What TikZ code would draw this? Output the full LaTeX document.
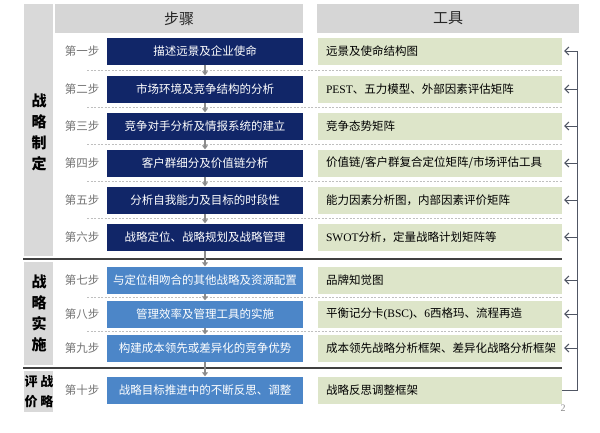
\documentclass[tikz,border=0pt]{standalone}
\usepackage{fontspec}
\setmainfont{Noto Sans CJK SC}
\newfontfamily\lat{Liberation Serif}
\usetikzlibrary{arrows.meta}
\definecolor{navy}{RGB}{17,38,104}
\definecolor{lblue}{RGB}{76,134,200}
\definecolor{tgreen}{RGB}{221,229,201}
\definecolor{colgray}{RGB}{217,217,217}
\definecolor{hdrgray}{RGB}{214,214,214}
\definecolor{lblgray}{RGB}{115,115,115}
\definecolor{conn}{RGB}{80,86,100}
\tikzset{
  stepbox/.style={fill=navy, text=white, minimum width=196pt, minimum height=27pt, inner sep=0pt, font=\fontsize{11.5}{12}\selectfont},
  stepboxl/.style={stepbox, fill=lblue},
  toolbox/.style={fill=tgreen, text=black, minimum height=27pt, text width=228pt, inner xsep=8pt, inner ysep=0pt, align=left, font=\fontsize{11.5}{12}\selectfont},
  steplbl/.style={text=lblgray, inner sep=0pt, font=\fontsize{11.5}{12}\selectfont},
  hdr/.style={fill=hdrgray, minimum height=29pt, inner sep=0pt, font=\fontsize{15}{16}\selectfont, text=black!85},
  phase/.style={fill=colgray, minimum width=29pt, inner sep=0pt},
  phasetxt/.style={align=center, inner sep=0pt, font=\bfseries\fontsize{15}{21}\selectfont},
  sepline/.style={draw=black!75, line width=2pt},
  dashline/.style={draw=black!25, dashed, dash pattern=on 2pt off 1.5pt, line width=0.8pt},
  flow/.style={draw=black!45, line width=1.5pt, -{Triangle[length=4pt,width=6pt]}},
  fb/.style={draw=conn, line width=1pt, -{Straight Barb[length=4pt,width=8pt]}, shorten >=2pt},
}
\begin{document}
\begin{tikzpicture}[x=1pt,y=-1pt]
\useasboundingbox[fill=white] (0,0) rectangle (600,432);
% phase column
\node[phase, minimum height=252pt] (p1) at (38.5,130) {};
\node[phase, minimum height=103pt] (p2) at (38.5,313.5) {};
\node[phase, minimum height=41pt] (p3) at (38.5,391.5) {};
\node[phasetxt] (p1t) at (39,132) {战\\略\\制\\定};
\node[phasetxt] (p2t) at (39,313.5) {战\\略\\实\\施};
\node[phasetxt, font=\bfseries\fontsize{13}{20}\selectfont] (p3t) at (39,392) {评\hspace{3pt}战\\价\hspace{3pt}略};
% headers
\node[hdr, minimum width=248pt] (h1) at (179,18.5) {步骤};
\node[hdr, minimum width=262pt] (h2) at (448,18.5) {工具};
% separators
\foreach \y in {70,107.5,144.5,181.5,218.5,297,331}{
  \draw[dashline] (87,\y) -- (562,\y);
}
\draw[sepline] (23,259) -- (562,259);
\draw[sepline] (23,368) -- (562,368);
% steps
\node[stepbox] (s1) at (205,51) {描述远景及企业使命};
\node[stepbox] (s2) at (205,89) {市场环境及竞争结构的分析};
\node[stepbox] (s3) at (205,126) {竞争对手分析及情报系统的建立};
\node[stepbox] (s4) at (205,163) {客户群细分及价值链分析};
\node[stepbox] (s5) at (205,200) {分析自我能力及目标的时段性};
\node[stepbox] (s6) at (205,237) {战略定位、战略规划及战略管理};
\node[stepboxl] (s7) at (205,280) {与定位相吻合的其他战略及资源配置};
\node[stepboxl] (s8) at (205,314) {管理效率及管理工具的实施};
\node[stepboxl] (s9) at (205,348) {构建成本领先或差异化的竞争优势};
\node[stepboxl] (s10) at (205,390) {战略目标推进中的不断反思、调整};
% step labels
\node[steplbl] (l1) at (82,51) {第一步};
\node[steplbl] (l2) at (82,89) {第二步};
\node[steplbl] (l3) at (82,126) {第三步};
\node[steplbl] (l4) at (82,163) {第四步};
\node[steplbl] (l5) at (82,200) {第五步};
\node[steplbl] (l6) at (82,237) {第六步};
\node[steplbl] (l7) at (82,280) {第七步};
\node[steplbl] (l8) at (82,314) {第八步};
\node[steplbl] (l9) at (82,348) {第九步};
\node[steplbl] (l10) at (82,390) {第十步};
% tools
\node[toolbox] (t1) at (440,51) {远景及使命结构图};
\node[toolbox] (t2) at (440,89) {{\lat PEST}、五力模型、外部因素评估矩阵};
\node[toolbox] (t3) at (440,126) {竞争态势矩阵};
\node[toolbox] (t4) at (440,163) {价值链/客户群复合定位矩阵/市场评估工具};
\node[toolbox] (t5) at (440,200) {能力因素分析图，内部因素评价矩阵};
\node[toolbox] (t6) at (440,237) {{\lat SWOT}分析，定量战略计划矩阵等};
\node[toolbox] (t7) at (440,280) {品牌知觉图};
\node[toolbox] (t8) at (440,314) {平衡记分卡{\lat (BSC)}、{\lat 6}西格玛、流程再造};
\node[toolbox] (t9) at (440,348) {成本领先战略分析框架、差异化战略分析框架};
\node[toolbox] (t10) at (440,390) {战略反思调整框架};
% flow arrows
\foreach \a/\b in {s1/s2,s2/s3,s3/s4,s4/s5,s5/s6,s6/s7,s7/s8,s8/s9,s9/s10}{
  \draw[flow] (\a.south) -- (\b.north);
}
% feedback connector
\foreach \i/\y in {1/51,2/89,3/126,4/163,5/200,6/237,7/280,8/314,9/348,10/390}{
  \coordinate (c\i) at (577,\y);
}
\draw[draw=conn, line width=1pt] (t10.east) -- (c10) -- (c1);
\foreach \i in {1,...,9}{
  \draw[fb] (c\i) -- (t\i.east);
}
\node[text=black!45, inner sep=0pt, font=\lat\fontsize{10}{10}\selectfont] (pg) at (563,408) {2};
\end{tikzpicture}
\end{document}
